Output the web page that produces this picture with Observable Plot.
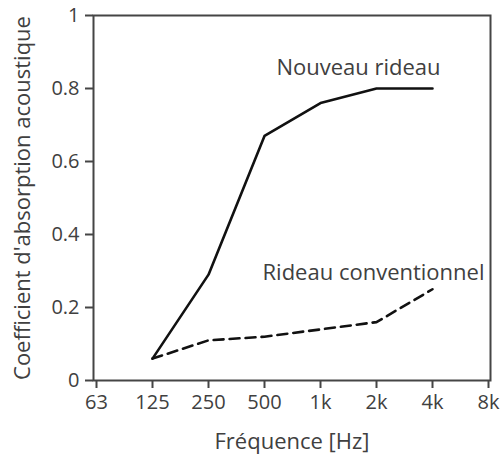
<!DOCTYPE html>
<html>
<head>
<meta charset="utf-8">
<script src="https://cdn.jsdelivr.net/npm/d3@7"></script>
<script src="https://cdn.jsdelivr.net/npm/@observablehq/plot@0.6"></script>
<style>
  html, body { margin: 0; padding: 0; background: #fff; }
  #chart svg { display: block; }
</style>
</head>
<body>
<div id="chart"></div>
<script>
const frequencies = ["63", "125", "250", "500", "1k", "2k", "4k", "8k"];
const dataFreq = ["125", "250", "500", "1k", "2k", "4k"];
const nouveauRideau = [0.06, 0.29, 0.67, 0.76, 0.80, 0.80];
const rideauConventionnel = [0.06, 0.11, 0.12, 0.14, 0.16, 0.25];
const yTicks = [0, 0.2, 0.4, 0.6, 0.8, 1];
const seriesNames = ["Nouveau rideau", "Rideau conventionnel"];

const nouveau = dataFreq.map((f, i) => ({f, v: nouveauRideau[i]}));
const conv = dataFreq.map((f, i) => ({f, v: rideauConventionnel[i]}));

const axisColor = "#454545";
const textColor = "#404040";
const fs = 20;
const fsL = 22;

const chart = Plot.plot({
  width: 503,
  height: 456,
  marginLeft: 93,
  marginRight: 13,
  marginTop: 15,
  marginBottom: 76,
  style: {fontFamily: "'Open Sans', sans-serif", fontSize: fs + "px", color: textColor, background: "#fff"},
  x: {type: "point", domain: frequencies, padding: 0, label: null},
  y: {domain: [0, 1], label: null},
  marks: [
    Plot.frame({stroke: axisColor, strokeWidth: 2}),
    Plot.axisY(yTicks, {tickSize: 8, tickPadding: 6, stroke: axisColor, strokeWidth: 2, fill: textColor, fontSize: fs, tickFormat: d => String(d)}),
    Plot.axisX(frequencies, {tickSize: 8, tickPadding: 6, stroke: axisColor, strokeWidth: 2, fill: textColor, fontSize: fs}),
    Plot.line(nouveau, {x: "f", y: "v", stroke: "#111", strokeWidth: 2.6}),
    Plot.line(conv, {x: "f", y: "v", stroke: "#111", strokeWidth: 2.6, strokeDasharray: "10,6"}),
    Plot.text([seriesNames[0]], {x: () => "1k", y: () => 0.857, text: d => d, dx: 38, fill: textColor, fontSize: fsL, textAnchor: "middle"}),
    Plot.text([seriesNames[1]], {x: () => "2k", y: () => 0.295, text: d => d, dx: -3, fill: textColor, fontSize: fsL, textAnchor: "middle"}),
    Plot.text(["Fréquence [Hz]"], {frameAnchor: "bottom", dy: 61, text: d => d, fill: textColor, fontSize: fsL, textAnchor: "middle", lineAnchor: "middle"}),
    Plot.text(["Coefficient d'absorption acoustique"], {frameAnchor: "left", dx: -71, rotate: -90, text: d => d, fill: textColor, fontSize: fsL, textAnchor: "middle", lineAnchor: "middle"})
  ]
});
document.getElementById("chart").appendChild(chart);
</script>
</body>
</html>
